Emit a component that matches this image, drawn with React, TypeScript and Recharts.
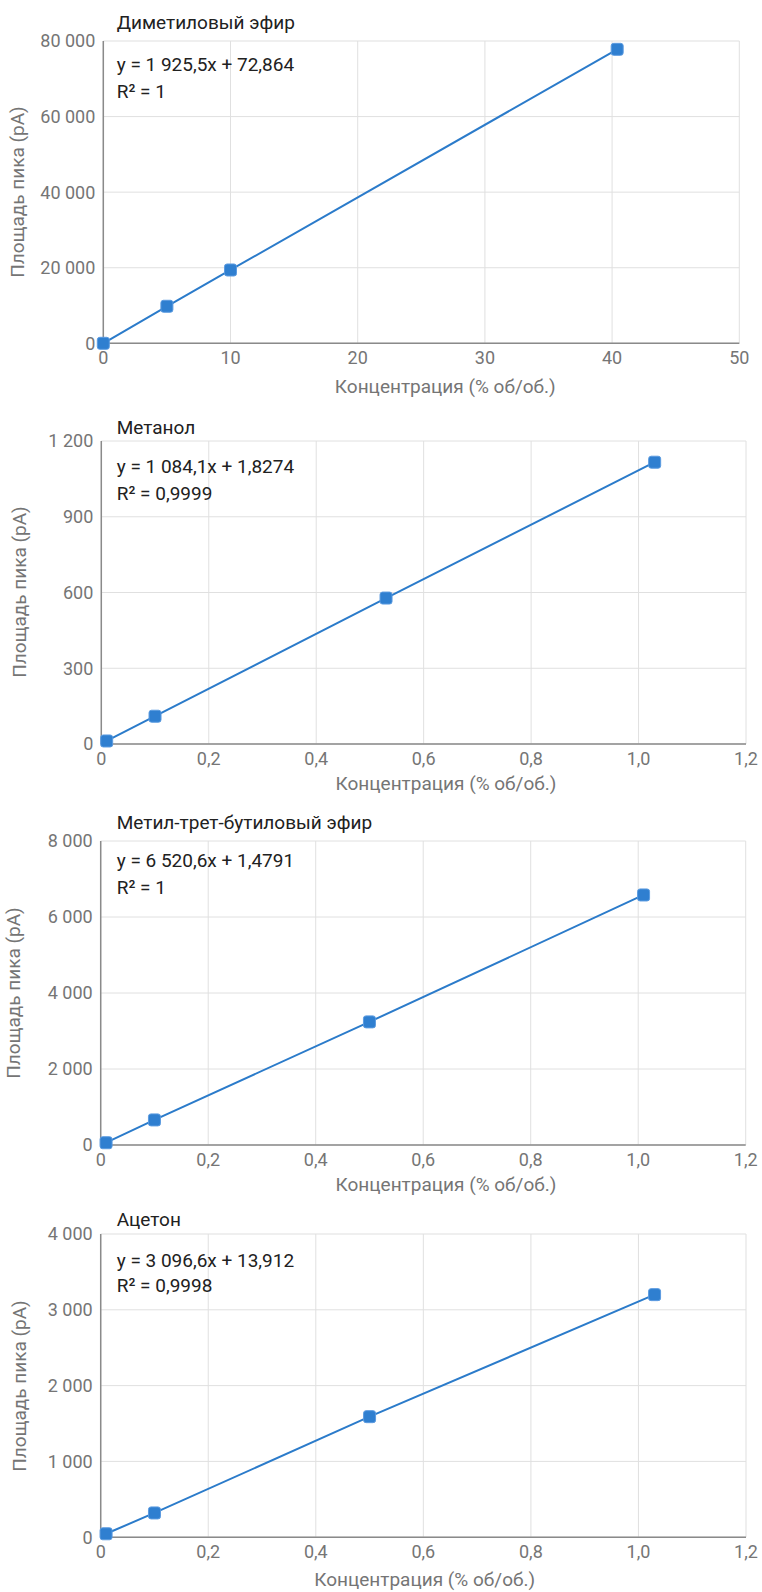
import React from 'react'
import { ComposedChart, Line, XAxis, YAxis, CartesianGrid } from 'recharts'

// Диметиловый эфир
const dmeX = [0, 5, 10, 40.4]
const dmeY = [0, 9800, 19400, 77800]
const dmeXTicks = [0, 10, 20, 30, 40, 50]
const dmeYTicks = [0, 20000, 40000, 60000, 80000]

// Метанол
const methX = [0.01, 0.1, 0.53, 1.03]
const methY = [12, 110, 578, 1116]
const methYTicks = [0, 300, 600, 900, 1200]

// Метил-трет-бутиловый эфир
const mtbeX = [0.01, 0.1, 0.5, 1.01]
const mtbeY = [60, 660, 3240, 6580]
const mtbeYTicks = [0, 2000, 4000, 6000, 8000]

// Ацетон
const acetX = [0.01, 0.1, 0.5, 1.03]
const acetY = [45, 320, 1590, 3200]
const acetYTicks = [0, 1000, 2000, 3000, 4000]

const fracXTicks = [0, 0.2, 0.4, 0.6, 0.8, 1.0, 1.2]

const xLabel = 'Концентрация (% об/об.)'
const yLabel = 'Площадь пика (pA)'

const FONT = 'Roboto, sans-serif'
const GRAY = '#757575'
const TEXT = '#212121'
const BLUE = '#2b7bca'

const fmtY = (v: number) => String(v).replace(/\B(?=(\d{3})+(?!\d))/g, ' ')
const fmtInt = (v: number) => String(v)
const fmtFrac = (v: number) => (v === 0 ? '0' : v.toFixed(1).replace('.', ','))

const zip = (xs: number[], ys: number[]) => xs.map((x, i) => ({ x, y: ys[i] }))

const charts = [
  {
    title: 'Диметиловый эфир', eq: 'y = 1 925,5x + 72,864', r2: 'R² = 1',
    data: zip(dmeX, dmeY), xTicks: dmeXTicks, yTicks: dmeYTicks, fmtX: fmtInt,
    L: 103.3, R: 739.3, T: 40.7, B: 343,
    titleY: 23, eqY: 65, r2Y: 92.3, xLabY: 386.7, xLabX: 445.3, yLabX: 18.3,
  },
  {
    title: 'Метанол', eq: 'y = 1 084,1x + 1,8274', r2: 'R² = 0,9999',
    data: zip(methX, methY), xTicks: fracXTicks, yTicks: methYTicks, fmtX: fmtFrac,
    L: 101.3, R: 746, T: 440.7, B: 743.7,
    titleY: 428, eqY: 467.2, r2Y: 493.8, xLabY: 784.3, xLabX: 446, yLabX: 20.3,
  },
  {
    title: 'Метил-трет-бутиловый эфир', eq: 'y = 6 520,6x + 1,4791', r2: 'R² = 1',
    data: zip(mtbeX, mtbeY), xTicks: fracXTicks, yTicks: mtbeYTicks, fmtX: fmtFrac,
    L: 100.7, R: 745.7, T: 841, B: 1145,
    titleY: 823, eqY: 861.2, r2Y: 887.7, xLabY: 1185, xLabX: 446, yLabX: 14.2,
  },
  {
    title: 'Ацетон', eq: 'y = 3 096,6x + 13,912', r2: 'R² = 0,9998',
    data: zip(acetX, acetY), xTicks: fracXTicks, yTicks: acetYTicks, fmtX: fmtFrac,
    L: 100.7, R: 746, T: 1234, B: 1537.2,
    titleY: 1220.3, eqY: 1260.8, r2Y: 1285.8, xLabY: 1580, xLabX: 424.7, yLabX: 20.3,
  },
]

const SquareDot = (props: any) => {
  const { cx, cy } = props
  if (cx == null || cy == null) return null
  return (
    <rect x={cx - 6} y={cy - 6} width={12} height={12} rx={2.5}
      fill="#2f7fd0" stroke="#5b9be0" strokeWidth={1} />
  )
}

const textStyle = (top: number, color: string): React.CSSProperties => ({
  position: 'absolute', left: 116.7, top: top - 10, fontFamily: FONT, fontSize: 19,
  lineHeight: '20px', color, whiteSpace: 'nowrap',
})

const tick = { fill: GRAY, fontSize: 18, fontFamily: FONT }

export default function App() {
  return (
    <div style={{ position: 'absolute', left: 0, top: 0, width: 762, height: 1592, background: '#fff', overflow: 'hidden' }}>
      {charts.map((c, i) => {
        const top = c.T - 10
        const height = c.B - c.T + 10 + 50
        const xMax = c.xTicks[c.xTicks.length - 1]
        const yMax = c.yTicks[c.yTicks.length - 1]
        return (
          <React.Fragment key={i}>
            <div style={{ position: 'absolute', left: 0, top }}>
              <ComposedChart width={762} height={height} data={c.data}
                margin={{ top: 10, right: 762 - c.R, bottom: 0, left: 0 }}>
                <CartesianGrid stroke="#e0e0e0" strokeWidth={1} />
                <XAxis type="number" dataKey="x" domain={[0, xMax]} ticks={c.xTicks}
                  tickFormatter={c.fmtX} tick={tick} tickLine={false} height={50}
                  axisLine={{ stroke: '#8a8a8a', strokeWidth: 1.5 }} interval={0} />
                <YAxis type="number" domain={[0, yMax]} ticks={c.yTicks} width={c.L}
                  tickFormatter={fmtY} tick={tick} tickLine={false} interval={0}
                  axisLine={{ stroke: '#8a8a8a', strokeWidth: 1.5 }} />
                <Line type="linear" dataKey="y" stroke={BLUE} strokeWidth={2}
                  dot={<SquareDot />} activeDot={false} isAnimationActive={false} />
              </ComposedChart>
            </div>
            <div style={textStyle(c.titleY, TEXT)}>{c.title}</div>
            <div style={textStyle(c.eqY, TEXT)}>{c.eq}</div>
            <div style={textStyle(c.r2Y, TEXT)}>{c.r2}</div>
            <div style={{
              position: 'absolute', left: c.xLabX, top: c.xLabY - 10, transform: 'translateX(-50%)',
              fontFamily: FONT, fontSize: 19, lineHeight: '20px', color: GRAY, whiteSpace: 'nowrap',
            }}>{xLabel}</div>
            <div style={{
              position: 'absolute', left: c.yLabX, top: (c.T + c.B) / 2,
              transform: 'translate(-50%, -50%) rotate(-90deg)',
              fontFamily: FONT, fontSize: 19, lineHeight: '20px', color: GRAY, whiteSpace: 'nowrap',
            }}>{yLabel}</div>
          </React.Fragment>
        )
      })}
    </div>
  )
}
